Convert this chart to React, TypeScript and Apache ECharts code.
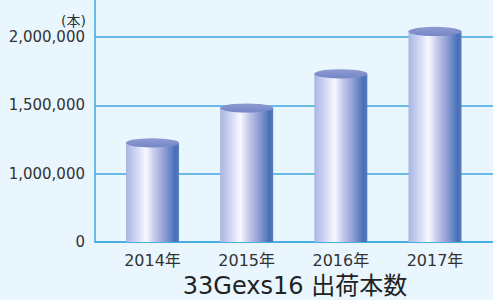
import React, { useEffect, useRef } from "react";
import * as echarts from "echarts";

const categories = ["2014年", "2015年", "2016年", "2017年"];
const shipments = [1225000, 1480000, 1730000, 2040000];
const yTicks = [500000, 1000000, 1500000, 2000000];
const yTickLabels = ["0", "1,000,000", "1,500,000", "2,000,000"];
const unitLabel = "(本)";
const titleText = "33Gexs16 出荷本数";

const Y_MIN = 500000;
const Y_MAX = 2270000;
const LATIN = "'DejaVu Sans', 'Noto Sans CJK JP', sans-serif";
const GRID_BLUE = "#3fa9e0";

export default function App() {
  const ref = useRef<HTMLDivElement>(null);
  useEffect(() => {
    if (!ref.current) return;
    const chart = echarts.init(ref.current, null, { renderer: "svg" });
    const barGradient = new echarts.graphic.LinearGradient(0, 0, 1, 0, [
      { offset: 0, color: "#a9b5e2" },
      { offset: 0.15, color: "#c6cef0" },
      { offset: 0.38, color: "#f8f8ff" },
      { offset: 0.55, color: "#c2c6ea" },
      { offset: 0.7, color: "#99a5d7" },
      { offset: 0.85, color: "#6383c5" },
      { offset: 0.93, color: "#4670b4" },
      { offset: 1, color: "#5a7cc0" },
    ]);
    const topGradient = new echarts.graphic.LinearGradient(0, 0, 0, 1, [
      { offset: 0, color: "#8e9bd2" },
      { offset: 1, color: "#7586c6" },
    ]);
    chart.setOption({
      animation: false,
      backgroundColor: "#e9f6fd",
      grid: [
        { left: 95, right: 0, top: 0, bottom: 58 },
        { left: 105.4, right: 10.9, top: 0, bottom: 58 },
      ],
      xAxis: [
        {
          gridIndex: 0,
          type: "category",
          data: [""],
          axisLine: { show: true, lineStyle: { color: GRID_BLUE, width: 1.5 } },
          axisTick: { show: false },
          axisLabel: { show: false },
        },
        {
          gridIndex: 1,
          type: "category",
          data: categories,
          axisLine: { show: false },
          axisTick: { show: false },
          axisLabel: {
            color: "#333",
            fontSize: 16,
            fontFamily: LATIN,
            margin: 10,
          },
        },
      ],
      yAxis: [
        {
          gridIndex: 0,
          type: "value",
          min: Y_MIN,
          max: Y_MAX,
          interval: 500000,
          axisLine: { show: true, lineStyle: { color: GRID_BLUE, width: 1.5 } },
          axisTick: { show: false },
          axisLabel: {
            showMaxLabel: false,
            color: "#333",
            fontSize: 15,
            fontFamily: LATIN,
            margin: 10,
            formatter: (v: number) => {
              const i = yTicks.indexOf(v);
              return i >= 0 ? yTickLabels[i] : "";
            },
          },
          splitLine: {
            show: true,
            showMaxLine: false,
            lineStyle: { color: GRID_BLUE, width: 1.5 },
          },
        },
        {
          gridIndex: 1,
          type: "value",
          min: Y_MIN,
          max: Y_MAX,
          show: false,
          splitLine: { show: false },
        },
      ],
      graphic: [
        {
          type: "text",
          x: 86,
          y: 21,
          style: {
            text: unitLabel,
            fill: "#333",
            font: "14px 'DejaVu Sans', 'Noto Sans CJK JP', sans-serif",
            align: "right",
            verticalAlign: "middle",
          },
        },
        {
          type: "text",
          x: 295,
          y: 286,
          style: {
            text: titleText,
            fill: "#222",
            font: "24px 'DejaVu Sans', 'Noto Sans CJK JP', sans-serif",
            align: "center",
            verticalAlign: "middle",
          },
        },
      ],
      series: [
        {
          type: "bar",
          xAxisIndex: 1,
          yAxisIndex: 1,
          data: shipments,
          barWidth: 53,
          itemStyle: { color: barGradient },
          z: 2,
        },
        {
          type: "pictorialBar",
          xAxisIndex: 1,
          yAxisIndex: 1,
          data: shipments,
          symbol: "circle",
          symbolSize: [53, 9],
          symbolPosition: "end",
          symbolOffset: [0, "-50%"],
          itemStyle: { color: topGradient },
          z: 3,
        },
      ],
    });
    return () => chart.dispose();
  }, []);
  return (
    <div
      ref={ref}
      style={{ position: "fixed", left: 0, top: 0, width: 493, height: 300 }}
    />
  );
}
